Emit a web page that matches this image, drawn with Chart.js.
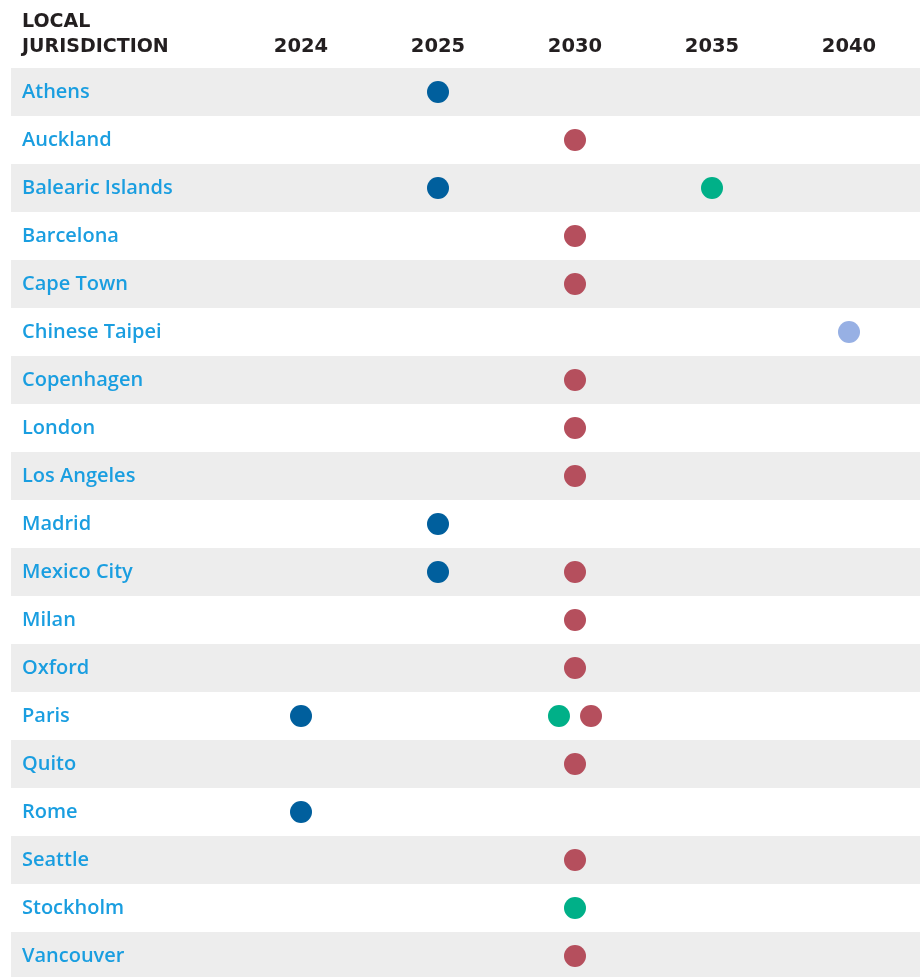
<!DOCTYPE html>
<html>
<head>
<meta charset="utf-8">
<script src="https://cdn.jsdelivr.net/npm/chart.js@4/dist/chart.umd.min.js"></script>
<style>
  html, body { margin: 0; padding: 0; background: #fff; }
  #wrap { width: 920px; height: 977px; position: relative; }
</style>
</head>
<body>
<div id="wrap"><canvas id="targetChart"></canvas></div>
<script>
const jurisdictions = [
    "Athens", "Auckland", "Balearic Islands", "Barcelona", "Cape Town",
    "Chinese Taipei", "Copenhagen", "London", "Los Angeles", "Madrid",
    "Mexico City", "Milan", "Oxford", "Paris", "Quito",
    "Rome", "Seattle", "Stockholm", "Vancouver"
];

const years = ["2024", "2025", "2030", "2035", "2040"];

// target year per jurisdiction, null = none
const blueSeries = [
    "2025", null, "2025", null, null,
    null, null, null, null, "2025",
    "2025", null, null, "2024", null,
    "2024", null, null, null
];
const greenSeries = [
    null, null, "2035", null, null,
    null, null, null, null, null,
    null, null, null, "2030", null,
    null, null, "2030", null
];
const redSeries = [
    null, "2030", null, "2030", "2030",
    null, "2030", "2030", "2030", null,
    "2030", "2030", "2030", "2030", "2030",
    null, "2030", null, "2030"
];
const lightSeries = [
    null, null, null, null, null,
    "2040", null, null, null, null,
    null, null, null, null, null,
    null, null, null, null
];

const seriesList = [
    { label: "Target A", values: blueSeries, color: "#005f9d" },
    { label: "Target B", values: greenSeries, color: "#00b088" },
    { label: "Target C", values: redSeries, color: "#b54f5d" },
    { label: "Target D", values: lightSeries, color: "#97b0e4" }
];

// spread dots that share a cell
const SHIFT = 0.117;
const datasets = seriesList.map((s, si) => {
    const pts = [];
    s.values.forEach((yr, row) => {
        if (yr === null) return;
        const sharing = seriesList
            .map((o, oi) => o.values[row] === yr ? oi : -1)
            .filter(i => i >= 0);
        const pos = sharing.indexOf(si);
        const shift = (pos - (sharing.length - 1) / 2) * 2 * SHIFT;
        pts.push({ x: years.indexOf(yr) + shift, y: row });
    });
    return {
        label: s.label,
        data: pts,
        backgroundColor: s.color,
        borderWidth: 0,
        pointRadius: 11,
        pointHoverRadius: 12
    };
});

const bandPlugin = {
    id: "bands",
    beforeDraw(chart) {
        const ctx = chart.ctx;
        const y = chart.scales.y;
        ctx.save();
        ctx.fillStyle = "#ededed";
        jurisdictions.forEach((name, i) => {
            if (i % 2 !== 0) return;
            const top = y.getPixelForValue(i - 0.5);
            const bottom = y.getPixelForValue(i + 0.5);
            ctx.fillRect(11, top, chart.width - 11, bottom - top);
        });
        ctx.restore();
    },
    afterDraw(chart) {
        const ctx = chart.ctx;
        ctx.save();
        ctx.fillStyle = "#231f20";
        ctx.font = "bold 19px 'DejaVu Sans'";
        ctx.textBaseline = "alphabetic";
        ctx.textAlign = "left";
        ctx.fillText("LOCAL", 22, 27);
        ctx.fillText("JURISDICTION", 22, 52);
        ctx.restore();
    }
};

const chartCtx =
document.getElementById(
"targetChart"
);

new Chart(chartCtx, {

    type: "scatter",

    data: { datasets: datasets },

    options: {
        responsive: true,
        maintainAspectRatio: false,
        animation: false,
        layout: {
            autoPadding: false,
            padding: { left: 22, right: 2.5, top: 0, bottom: 0 }
        },
        plugins: {
            legend: { display: false },
            tooltip: {
                callbacks: {
                    label: (c) => jurisdictions[c.raw.y] + ": " + years[Math.round(c.raw.x)]
                }
            }
        },
        scales: {
            x: {
                type: "linear",
                position: "top",
                min: -0.5,
                max: 4.5,
                grid: { display: false, drawTicks: false },
                border: { display: false },
                afterBuildTicks: (scale) => {
                    scale.ticks = years.map((_, i) => ({ value: i }));
                },
                afterFit: (scale) => {
                    scale.height = 68;
                    scale.paddingLeft = 0;
                    scale.paddingRight = 0;
                },
                ticks: {
                    autoSkip: false,
                    maxRotation: 0,
                    padding: 9,
                    color: "#231f20",
                    font: { family: "'DejaVu Sans'", size: 19.5, weight: "bold" },
                    callback: (v) => years[v]
                }
            },
            y: {
                type: "linear",
                reverse: true,
                min: -0.5,
                max: 18.4375,
                grid: { display: false, drawTicks: false },
                border: { display: false },
                afterBuildTicks: (scale) => {
                    scale.ticks = jurisdictions.map((_, i) => ({ value: i }));
                },
                afterFit: (scale) => {
                    scale.width = 210.5;
                    scale.paddingTop = 0;
                    scale.paddingBottom = 0;
                },
                ticks: {
                    autoSkip: false,
                    crossAlign: "far",
                    padding: 0,
                    color: "#1a9ee0",
                    font: { family: "'Open Sans'", size: 20, weight: "600" },
                    callback: (v) => jurisdictions[v]
                }
            }
        }
    },

    plugins: [bandPlugin]

});
</script>
</body>
</html>
